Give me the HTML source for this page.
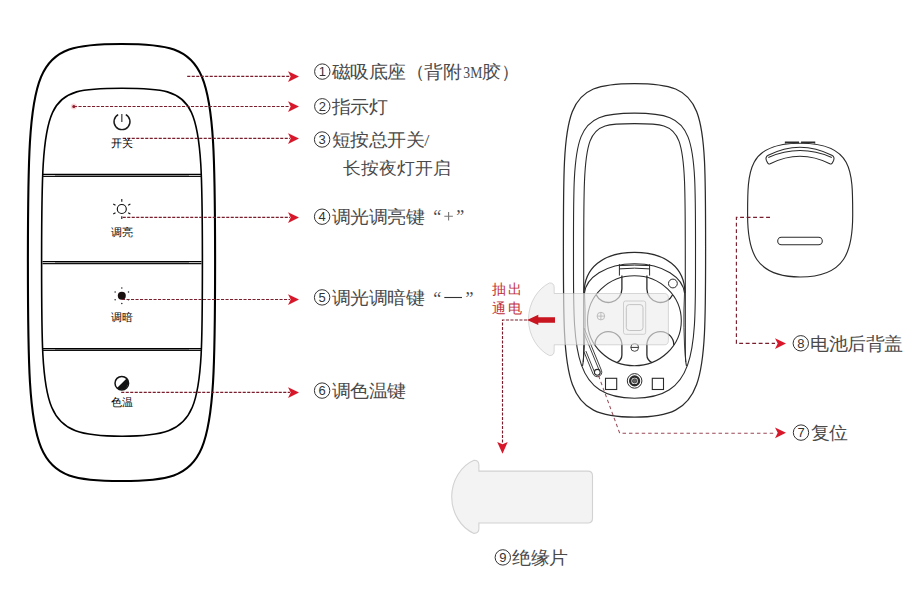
<!DOCTYPE html>
<html><head><meta charset="utf-8"><style>
html,body{margin:0;padding:0;background:#fff;width:922px;height:594px;overflow:hidden}
svg{display:block}
</style></head><body>
<svg width="922" height="594" viewBox="0 0 922 594">
<rect width="922" height="594" fill="#fff"/>
<path d="M121.50 44.00 C31.83 44.00 27.90 59.08 27.90 262.50 L27.90 262.50 C27.90 465.49 32.21 481.00 121.50 481.00 C210.79 481.00 215.10 465.49 215.10 262.50 L215.10 262.50 C215.10 59.08 211.17 44.00 121.50 44.00Z" fill="none" stroke="#000" stroke-width="2.1"/>
<path d="M122.00 88.30 C44.17 88.30 41.60 94.39 41.60 262.30 L41.60 262.30 C41.60 416.99 41.76 436.30 122.00 436.30 C202.24 436.30 202.40 416.99 202.40 262.30 L202.40 262.30 C202.40 94.39 199.83 88.30 122.00 88.30Z" fill="none" stroke="#000" stroke-width="1.6"/>
<rect x="55" y="174.25" width="134" height="2.05" fill="#aaa"/>
<line x1="42.5" y1="174.25" x2="201.5" y2="174.25" stroke="#000" stroke-width="1.25"/>
<line x1="42.5" y1="176.30" x2="201.5" y2="176.30" stroke="#111" stroke-width="1.25"/>
<rect x="55" y="261.60" width="134" height="1.90" fill="#aaa"/>
<line x1="42.5" y1="261.60" x2="201.5" y2="261.60" stroke="#000" stroke-width="1.25"/>
<line x1="42.5" y1="263.50" x2="201.5" y2="263.50" stroke="#111" stroke-width="1.25"/>
<rect x="55" y="348.50" width="134" height="1.85" fill="#aaa"/>
<line x1="42.5" y1="348.50" x2="201.5" y2="348.50" stroke="#000" stroke-width="1.25"/>
<line x1="42.5" y1="350.35" x2="201.5" y2="350.35" stroke="#111" stroke-width="1.25"/>
<path d="M118.2 114.6 A8 8 0 1 0 125.8 114.6" fill="none" stroke="#1a1a1a" stroke-width="1.4"/>
<line x1="121.8" y1="114" x2="121.8" y2="121.9" stroke="#555" stroke-width="1.4"/>
<circle cx="121.8" cy="209" r="4.5" fill="none" stroke="#111" stroke-width="1.15"/>
<line x1="121.80" y1="201.70" x2="121.80" y2="199.10" stroke="#111" stroke-width="1.1"/>
<line x1="115.48" y1="205.35" x2="113.23" y2="204.05" stroke="#111" stroke-width="1.1"/>
<line x1="115.48" y1="212.65" x2="113.23" y2="213.95" stroke="#111" stroke-width="1.1"/>
<line x1="121.80" y1="216.30" x2="121.80" y2="218.90" stroke="#111" stroke-width="1.1"/>
<line x1="128.12" y1="212.65" x2="130.37" y2="213.95" stroke="#111" stroke-width="1.1"/>
<line x1="128.12" y1="205.35" x2="130.37" y2="204.05" stroke="#111" stroke-width="1.1"/>
<circle cx="121.8" cy="295.8" r="4" fill="#1a1010"/>
<circle cx="121.80" cy="288.10" r="0.75" fill="#222"/>
<circle cx="115.13" cy="291.95" r="0.75" fill="#222"/>
<circle cx="115.13" cy="299.65" r="0.75" fill="#222"/>
<circle cx="121.80" cy="303.50" r="0.75" fill="#222"/>
<circle cx="128.47" cy="299.65" r="0.75" fill="#222"/>
<circle cx="128.47" cy="291.95" r="0.75" fill="#222"/>
<circle cx="121.8" cy="383.2" r="6.8" fill="none" stroke="#111" stroke-width="1.5"/>
<path d="M126.6 378.4 A6.8 6.8 0 0 1 117 388Z" fill="#111"/>
<line x1="187.2" y1="76.4" x2="290" y2="76.4" stroke="#7a1e2e" stroke-width="1.15" stroke-dasharray="3.1 1.4"/>
<path d="M288.0 71.2 L299.0 76.4 L288.0 81.9 L290.7 76.4Z" fill="#d8182a"/>
<line x1="74" y1="106.5" x2="290" y2="106.5" stroke="#7a1e2e" stroke-width="1.15" stroke-dasharray="3.1 1.4"/>
<path d="M288.0 101.3 L299.0 106.5 L288.0 112.0 L290.7 106.5Z" fill="#d8182a"/>
<line x1="122.7" y1="138.4" x2="290" y2="138.4" stroke="#7a1e2e" stroke-width="1.15" stroke-dasharray="3.1 1.4"/>
<path d="M288.0 133.2 L299.0 138.4 L288.0 143.9 L290.7 138.4Z" fill="#d8182a"/>
<line x1="122.7" y1="217.4" x2="290" y2="217.4" stroke="#7a1e2e" stroke-width="1.15" stroke-dasharray="3.1 1.4"/>
<path d="M288.0 212.2 L299.0 217.4 L288.0 222.9 L290.7 217.4Z" fill="#d8182a"/>
<line x1="122" y1="299.5" x2="290" y2="299.5" stroke="#7a1e2e" stroke-width="1.15" stroke-dasharray="3.1 1.4"/>
<path d="M288.0 294.3 L299.0 299.5 L288.0 305.0 L290.7 299.5Z" fill="#d8182a"/>
<line x1="121.2" y1="392.4" x2="290" y2="392.4" stroke="#7a1e2e" stroke-width="1.15" stroke-dasharray="3.1 1.4"/>
<path d="M288.0 387.2 L299.0 392.4 L288.0 397.9 L290.7 392.4Z" fill="#d8182a"/>
<circle cx="73.8" cy="106.5" r="3" fill="rgba(235,90,100,0.25)"/><circle cx="73.8" cy="106.5" r="1.5" fill="#8e1a2a"/>
<path d="M634.50 83.50 C562.83 83.50 563.40 104.81 563.40 250.00 L563.40 250.00 C563.40 385.85 563.68 417.10 634.50 417.10 C705.32 417.10 705.60 385.85 705.60 250.00 L705.60 250.00 C705.60 104.81 706.17 83.50 634.50 83.50Z" fill="none" stroke="#2a2a2a" stroke-width="1.25"/>
<path d="M634.50 113.10 C570.33 113.10 573.50 132.08 573.50 270.00 L573.50 270.00 C573.50 352.82 574.41 398.20 634.50 398.20 C694.59 398.20 695.50 352.82 695.50 270.00 L695.50 270.00 C695.50 132.08 698.67 113.10 634.50 113.10Z" fill="none" stroke="#2a2a2a" stroke-width="1.1"/>
<path d="M582.5 366 C583.5 362 583.7 358 583.7 350 L583.7 270 C583.7 125.50 582.28 123.6 634.5 123.6 C686.72 123.6 685.3 125.50 685.3 270 L685.3 350 C685.3 358 685.5 362 686.5 366" fill="none" stroke="#2a2a2a" stroke-width="1.1"/>
<path d="M584.1 293 C584.1 268 603 252.4 634.5 252.4 C666 252.4 684.9 268 684.9 293" fill="none" stroke="#2a2a2a" stroke-width="1.2"/>
<path d="M584.5 293 C586 278 605 263.7 634.5 263.7 C664 263.7 683 278 684.5 293" fill="none" stroke="#2a2a2a" stroke-width="1.1"/>
<path d="M584.5 293 C585.6 315 585.4 340 583.2 362 M684.5 293 C683.4 315 683.6 340 685.8 362" fill="none" stroke="#2a2a2a" stroke-width="0.9"/>
<path d="M619.4 264.2 V275.6 M649.6 264.2 V275.6 M619.4 265.6 Q634.5 264.6 649.6 265.6 M619.4 268.9 Q634.5 267.4 649.6 268.9" fill="none" stroke="#2a2a2a" stroke-width="1"/>
<ellipse cx="634.4" cy="320.7" rx="46.9" ry="45" fill="none" stroke="#2a2a2a" stroke-width="1.1"/>
<path d="M621.9 275.6 V289 A13.5 13.5 0 0 1 596.15 294.66" fill="none" stroke="#2a2a2a" stroke-width="1.3"/>
<path d="M646.9 275.6 V289 A13.5 13.5 0 0 0 672.65 294.66" fill="none" stroke="#2a2a2a" stroke-width="1.3"/>
<path d="M594.94 345.02 A13.5 13.5 0 0 1 621.9 344 V355 Q621.9 360 616.6 362.8" fill="none" stroke="#2a2a2a" stroke-width="1.3"/>
<path d="M673.86 345.02 A13.5 13.5 0 0 0 646.9 344 V355 Q646.9 360 652.2 362.8" fill="none" stroke="#2a2a2a" stroke-width="1.3"/>
<rect x="623.5" y="301" width="22.2" height="33.3" rx="2" fill="none" stroke="#888" stroke-width="0.9"/>
<rect x="626.3" y="304.6" width="16.7" height="25.9" rx="3" fill="none" stroke="#666" stroke-width="0.9"/>
<circle cx="600.9" cy="316.1" r="3.8" fill="none" stroke="#555" stroke-width="0.9"/>
<path d="M597.1 316.1 H604.7 M600.9 312.3 V319.9" stroke="#555" stroke-width="0.9"/>
<circle cx="634.7" cy="347.4" r="3.9" fill="none" stroke="#333" stroke-width="0.9"/>
<path d="M630.8 347.4 H638.6" stroke="#333" stroke-width="1"/>
<circle cx="672.9" cy="283.5" r="4.4" fill="none" stroke="#2a2a2a" stroke-width="1"/>
<rect x="605.5" y="378.3" width="11.2" height="11.2" fill="none" stroke="#2a2a2a" stroke-width="1.1"/>
<rect x="652.3" y="378.3" width="11.2" height="11.2" fill="none" stroke="#2a2a2a" stroke-width="1.1"/>
<circle cx="634.6" cy="380.9" r="7.3" fill="none" stroke="#2a2a2a" stroke-width="1"/>
<circle cx="634.6" cy="380.9" r="4.4" fill="none" stroke="#2a2a2a" stroke-width="2.4"/>
<circle cx="634.6" cy="380.9" r="2.2" fill="#666" stroke="#333" stroke-width="0.8"/>
<line x1="601.51" y1="370.58" x2="584.07" y2="328.03" stroke="#2a2a2a" stroke-width="0.9"/>
<line x1="599.61" y1="371.35" x2="584.07" y2="333.43" stroke="#2a2a2a" stroke-width="0.9"/>
<line x1="594.99" y1="373.25" x2="585.89" y2="351.05" stroke="#2a2a2a" stroke-width="0.9"/>
<line x1="593.09" y1="374.02" x2="584.00" y2="351.82" stroke="#2a2a2a" stroke-width="0.9"/>
<path d="M601.51 370.58 A4.55 4.55 0 0 1 593.09 374.02" fill="none" stroke="#2a2a2a" stroke-width="0.9"/>
<circle cx="597.3" cy="372.3" r="2.9" fill="#fff" stroke="#2a2a2a" stroke-width="1.1"/>
<path d="M554.2 293.5 H664.2 Q668.4 293.5 668.4 297.7 V340.6 Q668.4 344.8 664.2 344.8 H554.2 V351 Q554.2 355.6 549.5 355.6 C538 350 528.5 336 528.5 319.3 C528.5 302.6 538 288.5 549.5 282.9 Q554.2 282.9 554.2 287.5 Z" fill="rgba(236,236,236,0.65)" stroke="rgba(185,185,185,0.6)" stroke-width="0.9"/>
<path d="M527 320 L538.3 314.7 V317.3 H555 V322.7 H538.3 V325 Z" fill="#c8151f"/>
<path d="M527 320 H502.5 V443.5" fill="none" stroke="#7a1e2e" stroke-width="1.15" stroke-dasharray="3.1 1.4"/>
<path d="M497.2 441.9 L502.5 453.7 L507.7 441.9 L502.5 444.3Z" fill="#d8182a"/>
<path d="M478.9 471.1 H587.8 Q592.5 471.1 592.5 475.8 V518.3 Q592.5 523 587.8 523 H478.9 V528.6 Q478.9 533.4 474 533.4 C461 528 451.7 513 451.7 496.8 C451.7 480.6 461 465.6 474 460.2 Q478.9 460.2 478.9 465 Z" fill="#f3f3f3" stroke="#d2d2d2" stroke-width="1.1"/>
<path d="M598.6 375.8 L619.7 433.2 H775" fill="none" stroke="#9a4a58" stroke-width="1.05" stroke-dasharray="3.5 2.9"/>
<path d="M775.0 427.6 L786.0 432.8 L775.0 438.3 L777.7 432.8Z" fill="#d8182a"/>
<path d="M800.15 143.20 C747.23 143.20 747.60 170.70 747.60 215.00 L747.60 215.00 C747.60 250.90 754.80 277.00 800.15 277.00 C845.50 277.00 852.70 250.90 852.70 215.00 L852.70 215.00 C852.70 170.70 853.07 143.20 800.15 143.20Z" fill="none" stroke="#2a2a2a" stroke-width="1.15"/>
<path d="M785.6 143.5 V142.2 H798.3 V143.2 M801.8 143.2 V142.2 H814.5 V143.5" fill="none" stroke="#2a2a2a" stroke-width="1.5"/>
<path d="M768.2 155.3 Q800 139.2 831.8 155.3 Q835 157 833.6 160.5 L832.3 163 Q831.5 164.6 829.8 163.8 Q800 148.8 770.2 163.8 Q768.5 164.6 767.7 163 L766.4 160.5 Q765 157 768.2 155.3 Z" fill="none" stroke="#2a2a2a" stroke-width="1.05"/>
<path d="M768.3 157.4 Q800 143.6 831.8 157.4" fill="none" stroke="#2a2a2a" stroke-width="1.05"/>
<rect x="777.7" y="237.3" width="44.6" height="7.5" rx="3.75" fill="none" stroke="#2a2a2a" stroke-width="1.05"/>
<path d="M770 217.3 H736.4 V343.4 H775" fill="none" stroke="#7a1e2e" stroke-width="1.15" stroke-dasharray="3.9 2.6"/>
<path d="M775.0 338.2 L786.0 343.4 L775.0 348.9 L777.7 343.4Z" fill="#d8182a"/>
<circle cx="322.3" cy="71.6" r="7.7" fill="none" stroke="#333" stroke-width="1"/><text x="322.3" y="76.2" font-size="13" text-anchor="middle" fill="#333" font-family="Liberation Sans">1</text>
<g transform="translate(0 71.6) scale(1 0.95) translate(0 -71.6)"><text x="331.9 350.4 368.9 387.4 405.9 424.4 442.9" y="78.5" font-size="18.5" fill="#4a4a4a" font-family="Liberation Serif">磁吸底座（背附</text></g>
<g transform="translate(0 71.6) scale(1 0.95) translate(0 -71.6)"><text x="463.3" y="78.5" font-size="18.5" fill="#4a4a4a" font-family="Liberation Serif" textLength="19" lengthAdjust="spacingAndGlyphs">3M</text></g>
<g transform="translate(0 71.6) scale(1 0.95) translate(0 -71.6)"><text x="482.5 501.0" y="78.5" font-size="18.5" fill="#4a4a4a" font-family="Liberation Serif">胶）</text></g>
<circle cx="322.3" cy="106.3" r="7.7" fill="none" stroke="#333" stroke-width="1"/><text x="322.3" y="110.9" font-size="13" text-anchor="middle" fill="#333" font-family="Liberation Sans">2</text>
<g transform="translate(0 106.3) scale(1 0.95) translate(0 -106.3)"><text x="331.9 350.4 368.9" y="113.2" font-size="18.5" fill="#4a4a4a" font-family="Liberation Serif">指示灯</text></g>
<circle cx="322.1" cy="139.5" r="7.7" fill="none" stroke="#333" stroke-width="1"/><text x="322.1" y="144.1" font-size="13" text-anchor="middle" fill="#333" font-family="Liberation Sans">3</text>
<g transform="translate(0 139.5) scale(1 0.95) translate(0 -139.5)"><text x="331.7 350.2 368.7 387.2 405.7 424.2" y="146.4" font-size="18.5" fill="#4a4a4a" font-family="Liberation Serif">短按总开关/</text></g>
<g transform="translate(0 167.3) scale(1 0.95) translate(0 -167.3)"><text x="343.3 361.2 379.1 397.0 414.9 432.8" y="174.20000000000002" font-size="18" fill="#4a4a4a" font-family="Liberation Serif">长按夜灯开启</text></g>
<circle cx="322.1" cy="216.7" r="7.7" fill="none" stroke="#333" stroke-width="1"/><text x="322.1" y="221.3" font-size="13" text-anchor="middle" fill="#333" font-family="Liberation Sans">4</text>
<g transform="translate(0 216.7) scale(1 0.95) translate(0 -216.7)"><text x="331.7 350.2 368.7 387.2 405.7" y="223.6" font-size="18.5" fill="#4a4a4a" font-family="Liberation Serif">调光调亮键</text></g>
<text x="433.2" y="222.8" font-size="18" fill="#4a4a4a" font-family="Liberation Serif">“</text>
<text x="456.3" y="222.8" font-size="18" fill="#4a4a4a" font-family="Liberation Serif">”</text>
<path d="M448.6 211.9 V220.4 M444.3 216.2 H452.9" stroke="#777" stroke-width="1.1"/>
<circle cx="322.1" cy="297.4" r="7.7" fill="none" stroke="#333" stroke-width="1"/><text x="322.1" y="302.0" font-size="13" text-anchor="middle" fill="#333" font-family="Liberation Sans">5</text>
<g transform="translate(0 297.4) scale(1 0.95) translate(0 -297.4)"><text x="331.7 350.2 368.7 387.2 405.7" y="304.29999999999995" font-size="18.5" fill="#4a4a4a" font-family="Liberation Serif">调光调暗键</text></g>
<text x="433.2" y="304.5" font-size="18" fill="#4a4a4a" font-family="Liberation Serif">“</text>
<text x="465.5" y="304.5" font-size="18" fill="#4a4a4a" font-family="Liberation Serif">”</text>
<line x1="444.3" y1="297.5" x2="462" y2="297.5" stroke="#333" stroke-width="1.1"/>
<circle cx="322.1" cy="390.6" r="7.7" fill="none" stroke="#333" stroke-width="1"/><text x="322.1" y="395.2" font-size="13" text-anchor="middle" fill="#333" font-family="Liberation Sans">6</text>
<g transform="translate(0 390.6) scale(1 0.95) translate(0 -390.6)"><text x="331.7 350.2 368.7 387.2" y="397.5" font-size="18.5" fill="#4a4a4a" font-family="Liberation Serif">调色温键</text></g>
<circle cx="801" cy="432.6" r="7.7" fill="none" stroke="#333" stroke-width="1"/><text x="801" y="437.2" font-size="13" text-anchor="middle" fill="#333" font-family="Liberation Sans">7</text>
<g transform="translate(0 432.6) scale(1 0.95) translate(0 -432.6)"><text x="810.6 829.1" y="439.5" font-size="18.5" fill="#4a4a4a" font-family="Liberation Serif">复位</text></g>
<circle cx="800.8" cy="343.3" r="7.7" fill="none" stroke="#333" stroke-width="1"/><text x="800.8" y="347.9" font-size="13" text-anchor="middle" fill="#333" font-family="Liberation Sans">8</text>
<g transform="translate(0 343.3) scale(1 0.95) translate(0 -343.3)"><text x="810.4 828.9 847.4 865.9 884.4" y="350.2" font-size="18.5" fill="#4a4a4a" font-family="Liberation Serif">电池后背盖</text></g>
<circle cx="502.8" cy="557.4" r="7.7" fill="none" stroke="#333" stroke-width="1"/><text x="502.8" y="562.0" font-size="13" text-anchor="middle" fill="#333" font-family="Liberation Sans">9</text>
<g transform="translate(0 557.4) scale(1 0.95) translate(0 -557.4)"><text x="512.4 530.9 549.4" y="564.3" font-size="18.5" fill="#4a4a4a" font-family="Liberation Serif">绝缘片</text></g>
<text x="492.3 508.3" y="294.3" font-size="14" fill="#c0303a" font-family="Liberation Serif">抽出</text>
<text x="492.3 508.3" y="312.6" font-size="14" fill="#c0303a" font-family="Liberation Serif">通电</text>
<text x="110.8 121.8" y="146.5" font-size="11" fill="#000" font-family="Liberation Sans">开关</text>
<text x="110.8 121.8" y="235.8" font-size="11" fill="#000" font-family="Liberation Sans">调亮</text>
<text x="110.8 121.8" y="320.5" font-size="11" fill="#000" font-family="Liberation Sans">调暗</text>
<text x="110.8 121.8" y="406.3" font-size="11" fill="#000" font-family="Liberation Sans">色温</text>
</svg>
</body></html>
